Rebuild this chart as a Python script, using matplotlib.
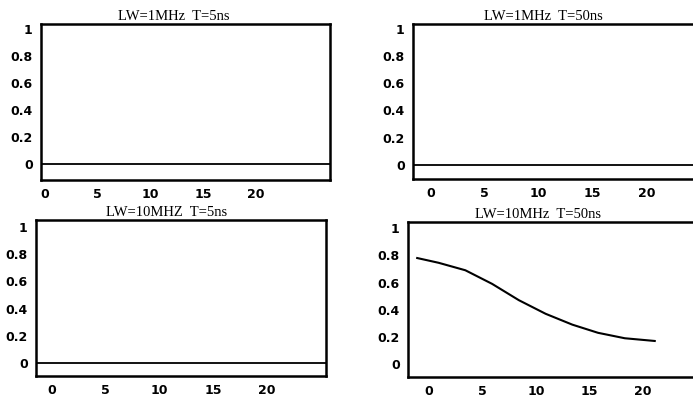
import matplotlib
matplotlib.use("Agg")
import matplotlib.pyplot as plt

# panel titles (linewidth / pulse duration)
titles = ["LW=1MHz  T=5ns", "LW=1MHz  T=50ns", "LW=10MHZ  T=5ns", "LW=10MHz  T=50ns"]

# tick values shared by all panels
x_ticks = [0, 5, 10, 15, 20]
y_ticks = [0, 0.2, 0.4, 0.6, 0.8, 1]
y_tick_labels = ["0", "0.2", "0.4", "0.6", "0.8", "1"]

# flat panels: value stays at zero over the whole delay range
flat_level = 0.0

# LW=10MHz, T=50ns: decaying curve
delay = [-1.1, 0.9, 3.4, 5.9, 8.4, 10.9, 13.4, 15.8, 18.3, 21.1]
signal = [0.78, 0.745, 0.69, 0.59, 0.47, 0.37, 0.29, 0.23, 0.19, 0.17]

W, H = 693, 398
fig = plt.figure(figsize=(W / 100, H / 100), dpi=100)
fig.patch.set_facecolor("white")

# axes boxes in pixels: left, top, right, bottom
boxes = [(41, 24, 330, 180), (413, 24, 702, 179),
         (36, 220, 326, 376), (408, 222, 697, 377)]
xlims = [(-0.4, 27.1), (-1.6, 25.1), (-1.5, 25.5), (-1.96, 25.05)]
ylims = [(-0.12, 1.035), (-0.105, 1.035), (-0.095, 1.05), (-0.095, 1.045)]
# title centres (fraction of axes width), a little left of centre in the scan
title_x = [0.46, 0.45, 0.45, 0.45]

axes = []
for i, (l, t, r, b) in enumerate(boxes):
    ax = fig.add_axes([l / W, 1 - b / H, (r - l) / W, (b - t) / H])
    ax.set_xlim(*xlims[i])
    ax.set_ylim(*ylims[i])
    ax.set_xticks(x_ticks)
    ax.set_xticklabels([str(v) for v in x_ticks])
    ax.set_yticks(y_ticks)
    ax.set_yticklabels(y_tick_labels)
    ax.tick_params(length=0, pad=6, labelsize=9)
    for lab in ax.get_xticklabels() + ax.get_yticklabels():
        lab.set_fontweight("bold")
        lab.set_family("DejaVu Sans")
    for sp in ax.spines.values():
        sp.set_linewidth(1.8)
        sp.set_color("black")
    ax.set_title(titles[i], family="Liberation Serif", fontsize=10.5,
                 x=title_x[i], pad=3)
    axes.append(ax)

for ax in axes[:3]:
    ax.axhline(flat_level, color="black", lw=1.3)

axes[3].plot(delay, signal, color="black", lw=1.5)

plt.savefig("out.png", dpi=100, facecolor="white")
plt.close()
